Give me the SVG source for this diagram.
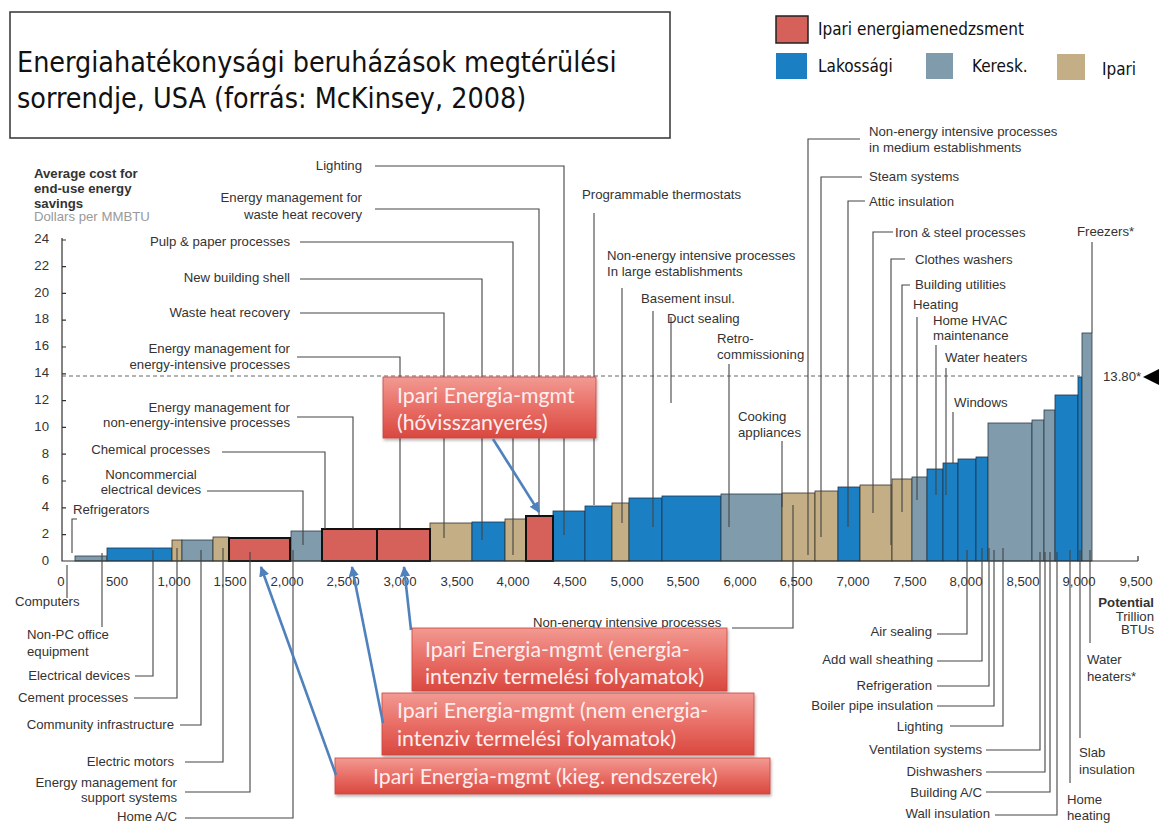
<svg xmlns="http://www.w3.org/2000/svg" width="1159" height="823" viewBox="0 0 1159 823">
<style>
.t{font-family:"Liberation Sans",Arial,sans-serif;font-size:13.2px;fill:#333}
.e{text-anchor:end}
.m{text-anchor:middle}
.b{font-weight:bold}
.ld{fill:none;stroke:#444;stroke-width:1.1}
.ax{fill:none;stroke:#333;stroke-width:1.2}
.L{fill:#1b7fc3;stroke:#1a3550;stroke-width:0.8}
.K{fill:#7f9bac;stroke:#2c3a44;stroke-width:0.8}
.I{fill:#c3ae86;stroke:#3a3225;stroke-width:0.8}
.R{fill:#d6615a;stroke:#111;stroke-width:2}
.hd{font-family:"DejaVu Sans Condensed","DejaVu Sans",sans-serif;font-stretch:condensed;fill:#111}
.bx{fill:url(#rg);stroke:#c9473f;stroke-width:0.8;filter:url(#sh)}
.bt{font-family:Lato,"Open Sans",sans-serif;font-size:21.3px;fill:#fdeeee}
.ar{fill:none;stroke:#4f81bd;stroke-width:2.6;marker-end:url(#ah)}
</style>
<defs>
<linearGradient id="rg" x1="0" y1="0" x2="0" y2="1">
<stop offset="0" stop-color="#f29a92"/>
<stop offset="0.5" stop-color="#e86e66"/>
<stop offset="1" stop-color="#d9483f"/>
</linearGradient>
<filter id="sh" x="-5%" y="-10%" width="110%" height="130%">
<feDropShadow dx="1" dy="2" stdDeviation="1.5" flood-color="#000" flood-opacity="0.3"/>
</filter>
<marker id="ah" viewBox="0 0 10 10" refX="9" refY="5" markerWidth="4" markerHeight="4" orient="auto" markerUnits="strokeWidth">
<path d="M0,0 L10,5 L0,10 z" fill="#4f81bd"/>
</marker>
</defs>
<rect width="1159" height="823" fill="#fff"/>

<g id="title">
<rect x="10" y="12" width="660" height="126" fill="#fff" stroke="#333" stroke-width="1.5"/>
<text class="hd" x="17" y="72" font-size="28.4">Energiahatékonysági beruházások megtérülési</text>
<text class="hd" x="17" y="108" font-size="28.4">sorrendje, USA (forrás: McKinsey, 2008)</text>
</g>

<g id="legend">
<rect x="776" y="16" width="32" height="27" fill="#d6615a" stroke="#222" stroke-width="1.5"/>
<text class="hd" x="818" y="35" font-size="17">Ipari energiamenedzsment</text>
<rect x="776" y="53" width="31" height="26" fill="#1b7fc3"/>
<text class="hd" x="818" y="72" font-size="17">Lakossági</text>
<rect x="926" y="53" width="27" height="26" fill="#7f9bac"/>
<text class="hd" x="972" y="72" font-size="17">Keresk.</text>
<rect x="1057" y="54" width="28" height="26" fill="#c3ae86"/>
<text class="hd" x="1102" y="75" font-size="17">Ipari</text>
</g>

<g id="bars">
<rect class="K" x="75" y="556" width="32" height="5"/>
<rect class="L" x="107" y="548" width="65" height="13"/>
<rect class="I" x="172" y="540" width="10" height="21"/>
<rect class="K" x="182" y="540" width="31" height="21"/>
<rect class="I" x="213" y="537" width="16" height="24"/>
<rect class="K" x="291" y="531" width="31" height="30"/>
<rect class="I" x="430" y="523" width="42" height="38"/>
<rect class="L" x="472" y="522" width="33" height="39"/>
<rect class="I" x="505" y="519" width="21" height="42"/>
<rect class="L" x="553" y="511" width="32" height="50"/>
<rect class="L" x="585" y="506" width="27" height="55"/>
<rect class="I" x="612" y="503" width="17" height="58"/>
<rect class="L" x="629" y="498" width="33" height="63"/>
<rect class="L" x="662" y="496" width="59" height="65"/>
<rect class="K" x="721" y="494" width="61" height="67"/>
<rect class="I" x="782" y="493" width="33" height="68"/>
<rect class="I" x="815" y="491" width="23" height="70"/>
<rect class="L" x="838" y="487" width="22" height="74"/>
<rect class="I" x="860" y="485" width="32" height="76"/>
<rect class="I" x="892" y="479" width="20" height="82"/>
<rect class="K" x="912" y="477" width="15" height="84"/>
<rect class="L" x="927" y="469" width="16" height="92"/>
<rect class="L" x="943" y="463" width="15" height="98"/>
<rect class="L" x="958" y="459" width="18" height="102"/>
<rect class="L" x="976" y="457" width="12" height="104"/>
<rect class="K" x="988" y="423" width="44" height="138"/>
<rect class="K" x="1032" y="420" width="12" height="141"/>
<rect class="K" x="1044" y="410" width="11" height="151"/>
<rect class="L" x="1055" y="395" width="23" height="166"/>
<rect class="L" x="1078" y="377" width="4" height="184"/>
<rect class="K" x="1082" y="333" width="10" height="228"/>
<rect class="R" x="229" y="538" width="61" height="23"/>
<rect class="R" x="322" y="529" width="55" height="32"/>
<rect class="R" x="377" y="529" width="53" height="32"/>
<rect class="R" x="526" y="516" width="27" height="45"/>
</g>

<g id="axes">
<path class="ax" d="M62,238 V561 H1138 M1138,561 V556"/>
<path class="ax" d="M62,240 h4 M62,266.6 h4 M62,293.4 h4 M62,320.2 h4 M62,347 h4 M62,373.8 h4 M62,400.6 h4 M62,427.4 h4 M62,454.2 h4 M62,481 h4 M62,507.8 h4 M62,534.6 h4"/>
<path d="M62,376 H1080" stroke="#666" stroke-width="1" stroke-dasharray="4,3"/>
<g class="t e" fill="#444">
<text x="49" y="243">24</text><text x="49" y="270">22</text><text x="49" y="297">20</text><text x="49" y="323">18</text><text x="49" y="350">16</text><text x="49" y="377">14</text><text x="49" y="404">12</text><text x="49" y="431">10</text><text x="49" y="458">8</text><text x="49" y="484">6</text><text x="49" y="511">4</text><text x="49" y="538">2</text><text x="49" y="565">0</text>
</g>
<g class="t m">
<text x="61" y="586">0</text><text x="117" y="586">500</text><text x="174" y="586">1,000</text><text x="230" y="586">1,500</text><text x="287" y="586">2,000</text><text x="343" y="586">2,500</text><text x="400" y="586">3,000</text><text x="457" y="586">3,500</text><text x="513" y="586">4,000</text><text x="570" y="586">4,500</text><text x="627" y="586">5,000</text><text x="683" y="586">5,500</text><text x="740" y="586">6,000</text><text x="796" y="586">6,500</text><text x="853" y="586">7,000</text><text x="910" y="586">7,500</text><text x="966" y="586">8,000</text><text x="1023" y="586">8,500</text><text x="1079" y="586">9,000</text><text x="1136" y="586">9,500</text>
</g>
<text class="t b" x="34" y="178">Average cost for</text>
<text class="t b" x="34" y="193">end-use energy</text>
<text class="t b" x="34" y="208">savings</text>
<text class="t" x="34" y="221" style="fill:#999">Dollars per MMBTU</text>
<text class="t b e" x="1154" y="607">Potential</text>
<text class="t e" x="1154" y="621">Trillion</text>
<text class="t e" x="1154" y="634">BTUs</text>
<text class="t" x="1103" y="381">13.80*</text>
<path d="M1143,377 L1159,369 L1159,385 z" fill="#000"/>
</g>

<g id="connectors">
<path class="ld" d="M375,166 H564 V535"/>
<path class="ld" d="M375,209 H539 V515"/>
<path class="ld" d="M300,242 H513 V555"/>
<path class="ld" d="M300,279 H482 V540"/>
<path class="ld" d="M300,313 H444 V538"/>
<path class="ld" d="M297,357 H400 V528"/>
<path class="ld" d="M297,417 H353 V529"/>
<path class="ld" d="M222,452 H325 V529"/>
<path class="ld" d="M207,491 H303 V545"/>
<path class="ld" d="M77,519 H72 V553"/>
<path class="ld" d="M67,565 V598"/>
<path class="ld" d="M102,553 V627"/>
<path class="ld" d="M135,676 H153 V550"/>
<path class="ld" d="M134,698 H177 V548"/>
<path class="ld" d="M180,725 H201 V550"/>
<path class="ld" d="M185,762 H223 V548"/>
<path class="ld" d="M185,792 H250 V552"/>
<path class="ld" d="M185,818 H293 V550"/>
<path class="ld" d="M594,213 V505"/>
<path class="ld" d="M622,288 V523"/>
<path class="ld" d="M653,311 V527"/>
<path class="ld" d="M671,317 V403"/>
<path class="ld" d="M729,364 V527"/>
<path class="ld" d="M860,139 H808 V555"/>
<path class="ld" d="M862,177 H821 V537"/>
<path class="ld" d="M865,201 H848 V527"/>
<path class="ld" d="M893,232 H873 V513"/>
<path class="ld" d="M905,259 H891 V545"/>
<path class="ld" d="M910,285 H902 V512"/>
<path class="ld" d="M917,317 V500"/>
<path class="ld" d="M936,345 V495"/>
<path class="ld" d="M946,368 V495"/>
<path class="ld" d="M953,412 V463"/>
<path class="ld" d="M1092,242 V333"/>
<path class="ld" d="M782,441 V507"/>
<path class="ld" d="M732,628 H793 V505"/>
<path class="ld" d="M937,634 H967 V550"/>
<path class="ld" d="M937,661 H982 V548"/>
<path class="ld" d="M937,686 H989 V548" stroke-width="2"/>
<path class="ld" d="M937,706 H994 V550"/>
<path class="ld" d="M950,726 H1003 V548"/>
<path class="ld" d="M986,750 H1040 V552"/>
<path class="ld" d="M986,772 H1045 V552"/>
<path class="ld" d="M986,792 H1050 V552"/>
<path class="ld" d="M995,815 H1057 V552"/>
<path class="ld" d="M1070,783 V550"/>
<path class="ld" d="M1080,738 V550" stroke-width="2"/>
<path class="ld" d="M1090,643 V550"/>
</g>

<g id="labels">
<text class="t e" x="362" y="170">Lighting</text>
<text class="t e" x="362" y="202">Energy management for</text>
<text class="t e" x="362" y="219">waste heat recovery</text>
<text class="t e" x="290" y="246">Pulp &amp; paper processes</text>
<text class="t e" x="290" y="282">New building shell</text>
<text class="t e" x="290" y="317">Waste heat recovery</text>
<text class="t e" x="290" y="353">Energy management for</text>
<text class="t e" x="290" y="369">energy-intensive processes</text>
<text class="t e" x="290" y="412">Energy management for</text>
<text class="t e" x="290" y="427">non-energy-intensive processes</text>
<text class="t e" x="210" y="454">Chemical processes</text>
<text class="t m" x="151" y="479">Noncommercial</text>
<text class="t m" x="151" y="494">electrical devices</text>
<text class="t" x="73" y="514">Refrigerators</text>
<text class="t" x="15" y="606">Computers</text>
<text class="t" x="27" y="639">Non-PC office</text>
<text class="t" x="27" y="656">equipment</text>
<text class="t e" x="130" y="680">Electrical devices</text>
<text class="t e" x="128" y="702">Cement processes</text>
<text class="t e" x="174" y="729">Community infrastructure</text>
<text class="t e" x="174" y="766">Electric motors</text>
<text class="t e" x="177" y="787">Energy management for</text>
<text class="t e" x="177" y="802">support systems</text>
<text class="t e" x="177" y="821">Home A/C</text>
<text class="t" x="582" y="199">Programmable thermostats</text>
<text class="t" x="607" y="260">Non-energy intensive processes</text>
<text class="t" x="607" y="276">In large establishments</text>
<text class="t" x="641" y="303">Basement insul.</text>
<text class="t" x="667" y="323">Duct sealing</text>
<text class="t" x="717" y="343">Retro-</text>
<text class="t" x="717" y="359">commissioning</text>
<text class="t" x="869" y="136">Non-energy intensive processes</text>
<text class="t" x="869" y="152">in medium establishments</text>
<text class="t" x="869" y="181">Steam systems</text>
<text class="t" x="869" y="206">Attic insulation</text>
<text class="t" x="895" y="237">Iron &amp; steel processes</text>
<text class="t" x="915" y="264">Clothes washers</text>
<text class="t" x="915" y="289">Building utilities</text>
<text class="t" x="913" y="309">Heating</text>
<text class="t" x="933" y="325">Home HVAC</text>
<text class="t" x="933" y="340">maintenance</text>
<text class="t" x="945" y="362">Water heaters</text>
<text class="t" x="954" y="407">Windows</text>
<text class="t" x="1077" y="236">Freezers*</text>
<text class="t" x="738" y="421">Cooking</text>
<text class="t" x="738" y="437">appliances</text>
<text class="t" x="533" y="627" font-size="12.4">Non-energy intensive processes</text>
<text class="t e" x="932" y="636">Air sealing</text>
<text class="t e" x="933" y="664">Add wall sheathing</text>
<text class="t e" x="932" y="690">Refrigeration</text>
<text class="t e" x="933" y="710">Boiler pipe insulation</text>
<text class="t e" x="943" y="731">Lighting</text>
<text class="t e" x="982" y="754">Ventilation systems</text>
<text class="t e" x="982" y="776">Dishwashers</text>
<text class="t e" x="982" y="797">Building A/C</text>
<text class="t e" x="990" y="818">Wall insulation</text>
<text class="t" x="1067" y="804">Home</text>
<text class="t" x="1067" y="820">heating</text>
<text class="t" x="1079" y="757">Slab</text>
<text class="t" x="1079" y="774">insulation</text>
<text class="t" x="1087" y="664">Water</text>
<text class="t" x="1087" y="681">heaters*</text>
</g>

<g id="box-hovisszanyeres">
<rect class="bx" x="383" y="377" width="213" height="61"/>
<text class="bt" x="397" y="403">Ipari Energia-mgmt</text>
<text class="bt" x="397" y="430">(hővisszanyerés)</text>
</g>
<g id="box-energiaintenziv">
<rect class="bx" x="412" y="628" width="315" height="63"/>
<text class="bt" x="425" y="657">Ipari Energia-mgmt (energia-</text>
<text class="bt" x="425" y="684">intenziv termelési folyamatok)</text>
</g>
<g id="box-nem-energiaintenziv">
<rect class="bx" x="382" y="693" width="372" height="62"/>
<text class="bt" x="397" y="718">Ipari Energia-mgmt (nem energia-</text>
<text class="bt" x="397" y="746">intenziv termelési folyamatok)</text>
</g>
<g id="box-kieg">
<rect class="bx" x="335" y="758" width="435" height="36"/>
<text class="bt" x="373" y="784">Ipari Energia-mgmt (kieg. rendszerek)</text>
</g>

<g id="arrows">
<path class="ar" d="M493,439 L539,512"/>
<path class="ar" d="M411,630 L404,567"/>
<path class="ar" d="M383,723 L352,567"/>
<path class="ar" d="M336,775 L261,567"/>
</g>
</svg>
